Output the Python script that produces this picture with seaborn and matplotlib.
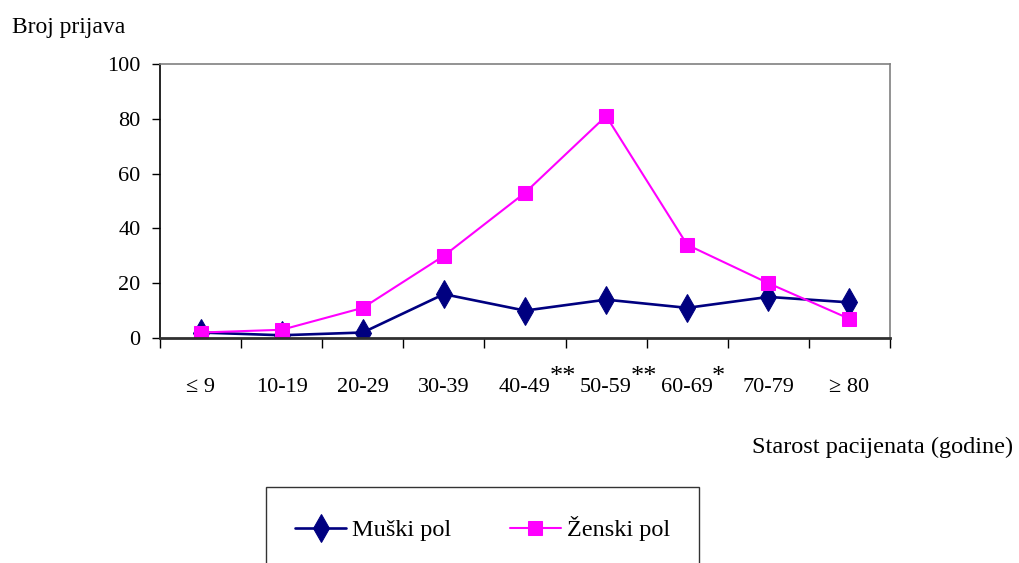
import numpy as np
import pandas as pd
import seaborn as sns
import matplotlib.pyplot as plt

# podaci procitani sa grafika
starost = ["≤ 9", "10-19", "20-29", "30-39", "40-49", "50-59", "60-69", "70-79", "≥ 80"]
muski = [2, 1, 2, 16, 10, 14, 11, 15, 13]
zenski = [2, 3, 11, 30, 53, 81, 34, 20, 7]
zvezdice = {"40-49": "**", "50-59": "**", "60-69": "*"}

sns.set_style("white")
plt.rcParams["font.family"] = ["Liberation Serif", "DejaVu Serif"]
plt.rcParams["text.color"] = "black"
plt.rcParams["xtick.labelcolor"] = "black"
plt.rcParams["ytick.labelcolor"] = "black"

df = pd.DataFrame({"starost": starost, "Muški pol": muski, "Ženski pol": zenski})

W, H = 1019, 563
fig = plt.figure(figsize=(W / 100, H / 100), dpi=100)
ax = fig.add_axes([160 / W, 1 - 338 / H, 730 / W, 274 / H])

sns.lineplot(data=df, x="starost", y="Muški pol", ax=ax, color="#000080",
             marker="d", markersize=14, markeredgecolor="#000080",
             linewidth=1.9, label="Muški pol", sort=False)
sns.lineplot(data=df, x="starost", y="Ženski pol", ax=ax, color="#FF00FF",
             marker="s", markersize=10, markeredgecolor="#FF00FF",
             linewidth=1.5, label="Ženski pol", sort=False)

ax.set_xlim(-0.5, len(starost) - 0.5)
ax.set_ylim(0, 100)
ax.set_yticks(np.arange(0, 101, 20))
ax.set_xticks(np.arange(-0.5, len(starost), 1.0), minor=True)
ax.tick_params(axis="x", which="major", length=0, pad=29, labelsize=16,
               labelcolor="black")
ax.tick_params(axis="x", which="minor", length=7, width=1, color="black",
               direction="out", bottom=True)
ax.tick_params(axis="y", length=6, width=1, color="black", direction="out",
               left=True, pad=8, labelsize=16, labelcolor="black")
ax.set_xlabel("")
ax.set_ylabel("")

for side in ["top", "right"]:
    ax.spines[side].set_color("#808080")
    ax.spines[side].set_linewidth(1.2)
ax.spines["left"].set_color("black")
ax.spines["left"].set_linewidth(1.2)
ax.spines["bottom"].set_color("#303030")
ax.spines["bottom"].set_linewidth(2)

fig.text(12 / W, 1 - 27 / H, "Broj prijava", fontsize=17, va="center",
         ha="left", color="black")
fig.text(1013 / W, 1 - 447 / H, "Starost pacijenata (godine)", fontsize=17.5,
         va="center", ha="right", color="black")

leg = ax.legend(loc="upper left", bbox_to_anchor=(266 / W, 1 - 487 / H),
                bbox_transform=fig.transFigure, ncol=2, fontsize=17.5,
                frameon=True, fancybox=False, borderpad=1.2, borderaxespad=0,
                handlelength=2.1, handletextpad=0.25, columnspacing=2.4)
leg.get_frame().set_edgecolor("black")
leg.get_frame().set_linewidth(1)
for t in leg.get_texts():
    t.set_color("black")

# zvezdice uz oznake starosnih grupa
fig.canvas.draw()
for lbl in ax.get_xticklabels():
    txt = lbl.get_text()
    if txt in zvezdice:
        bb = lbl.get_window_extent()
        fig.text((bb.x1 - 1) / W, (bb.y1 - 10) / H, zvezdice[txt], fontsize=19,
                 ha="left", va="bottom", color="black")

plt.savefig("out.png", dpi=100)
